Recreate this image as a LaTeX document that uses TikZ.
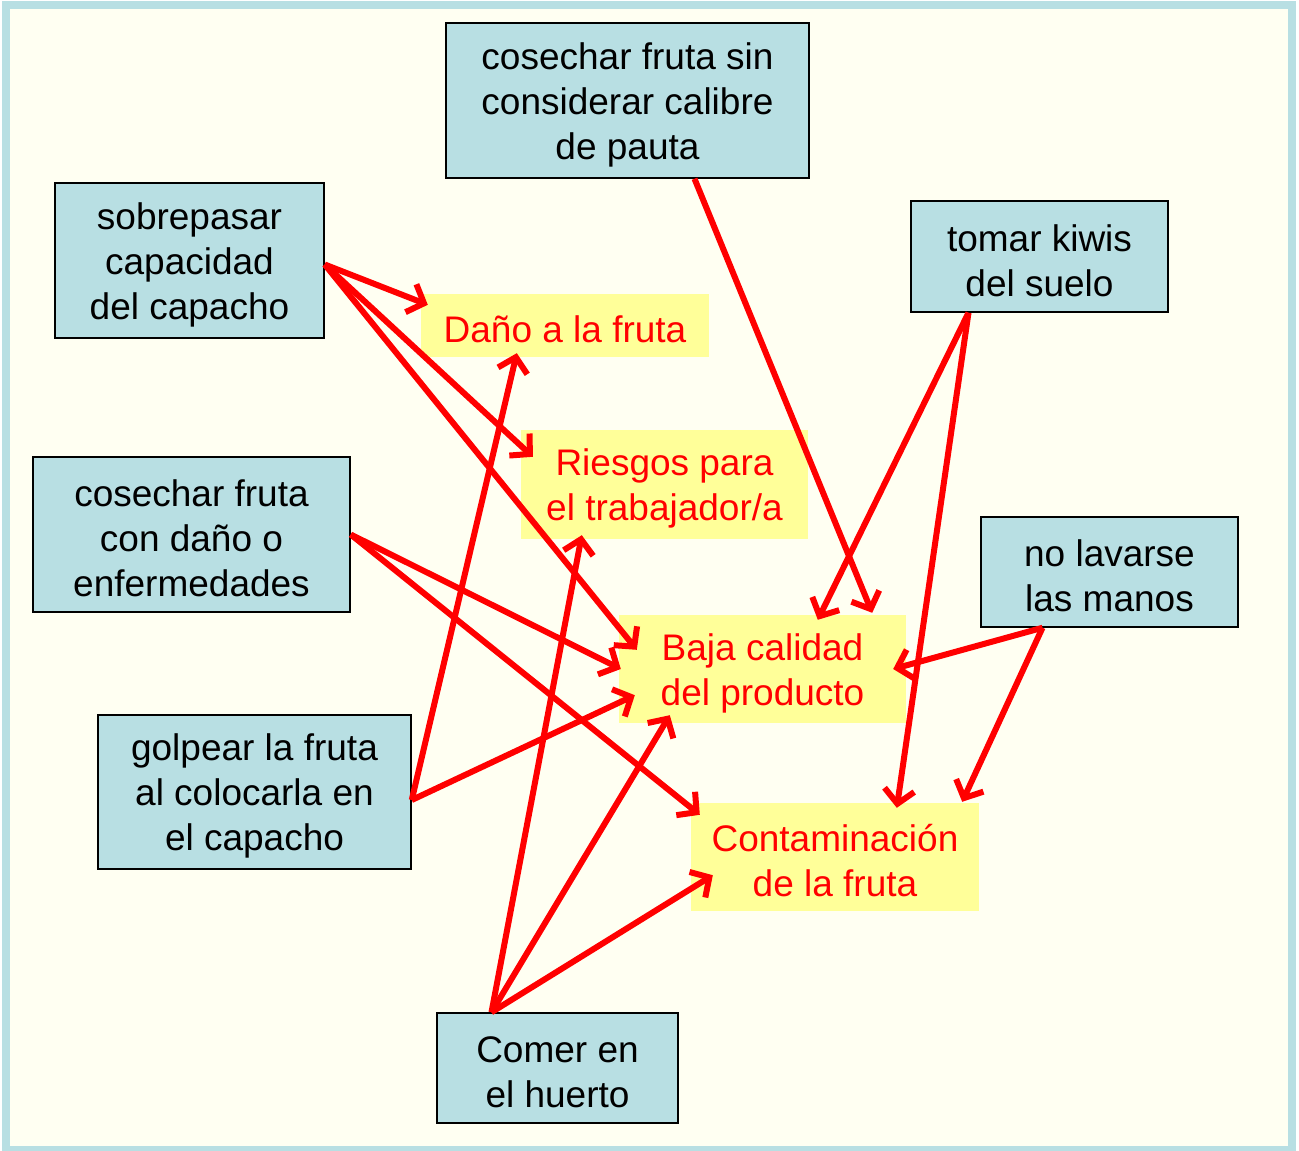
\documentclass[tikz,border=0pt]{standalone}
\usepackage{fontspec}
\setmainfont{Liberation Sans}
\usepackage{tikz}
\usetikzlibrary{arrows.meta, positioning}
\definecolor{causefill}{HTML}{B8DFE3}
\definecolor{effectfill}{HTML}{FFFF99}
\definecolor{paper}{HTML}{FFFFF2}
\definecolor{framecol}{HTML}{B8DFE3}
\begin{document}
\begin{tikzpicture}[
      x=1pt, y=-1pt,
      cause/.style={rectangle, draw=black, fill=causefill, line width=1.5pt, align=center, text=black, font=\fontsize{37pt}{45pt}\selectfont, inner sep=0pt},
      effect/.style={rectangle, fill=effectfill, align=center, text=red, font=\fontsize{37pt}{45pt}\selectfont, inner sep=0pt},
      one/.style={text height=35pt},
      two/.style={text height=80pt},
      three/.style={text height=125pt},
      link/.style={-{Straight Barb[length=14pt, width=30pt]}, draw=red, line width=6pt}
  ]
      \useasboundingbox (0,0) rectangle (1299,1151);
      \draw[framecol, fill=paper, line width=8pt] (6,5) rectangle (1292,1150);

      % Causes
      \node[cause, three, minimum width=363pt, minimum height=155pt] (calibre) at (627.5,100.5) {cosechar fruta sin\\considerar calibre\\de pauta};
      \node[cause, three, minimum width=269pt, minimum height=155pt] (sobre) at (189.5,260.5) {sobrepasar\\capacidad\\del capacho};
      \node[cause, two, minimum width=257pt, minimum height=111pt] (kiwis) at (1039.5,256.5) {tomar kiwis\\del suelo};
      \node[cause, three, minimum width=317pt, minimum height=155pt] (danada) at (191.5,534.5) {cosechar fruta\\con daño o\\enfermedades};
      \node[cause, two, minimum width=257pt, minimum height=110pt] (manos) at (1109.5,572) {no lavarse\\las manos};
      \node[cause, three, minimum width=313pt, minimum height=154pt] (golpe) at (254.5,792) {golpear la fruta\\al colocarla en\\el capacho};
      \node[cause, two, minimum width=241pt, minimum height=110pt] (comer) at (557.5,1068) {Comer en\\el huerto};

      % Effects
      \node[effect, one, minimum width=288pt, minimum height=63pt] (dano) at (565,325.5) {Daño a la fruta};
      \node[effect, two, minimum width=287pt, minimum height=109pt] (riesgo) at (664.5,484.5) {Riesgos para\\el trabajador/a};
      \node[effect, two, minimum width=287pt, minimum height=108pt] (baja) at (762.5,669) {Baja calidad\\del producto};
      \node[effect, two, minimum width=288pt, minimum height=108pt] (contam) at (835,857) {Contaminación\\de la fruta};

      % Links from the left side
      \draw[link] ([yshift=-4pt]sobre.east) -- ([xshift=7pt, yshift=-11pt]dano.north west);
      \draw[link] ([yshift=-4pt]sobre.east) -- ([xshift=12pt, yshift=-27pt]riesgo.north west);
      \draw[link] ([yshift=-4pt]sobre.east) -- ([xshift=18pt, yshift=-35pt]baja.north west);
      \draw[link] (danada.east) -- ([xshift=2pt]baja.west);
      \draw[link] (danada.east) -- ([xshift=9pt, yshift=-12pt]contam.north west);
      \draw[link] ([yshift=-8pt]golpe.east) -- ([xshift=96pt, yshift=4pt]dano.south west);
      \draw[link] ([yshift=-8pt]golpe.east) -- ([xshift=16pt, yshift=28pt]baja.south west);

      % Links from below
      \draw[link] ([xshift=-66pt]comer.north) -- ([xshift=61pt, yshift=4pt]riesgo.south west);
      \draw[link] ([xshift=-66pt]comer.north) -- ([xshift=51pt, yshift=8pt]baja.south west);
      \draw[link] ([xshift=-66pt]comer.north) -- ([xshift=22pt, yshift=36pt]contam.south west);

      % Links from the right side
      \draw[link] ([xshift=67pt]calibre.south) -- ([xshift=-34pt, yshift=2pt]baja.north east);
      \draw[link] ([xshift=-71pt]kiwis.south) -- ([xshift=199pt, yshift=-5pt]baja.north west);
      \draw[link] ([xshift=-71pt]kiwis.south) -- ([xshift=206pt, yshift=-5pt]contam.north west);
      \draw[link] ([xshift=-67pt]manos.south) -- ([xshift=-13pt]baja.east);
      \draw[link] ([xshift=-67pt]manos.south) -- ([xshift=-17pt, yshift=1pt]contam.north east);

  \end{tikzpicture}
\end{document}
